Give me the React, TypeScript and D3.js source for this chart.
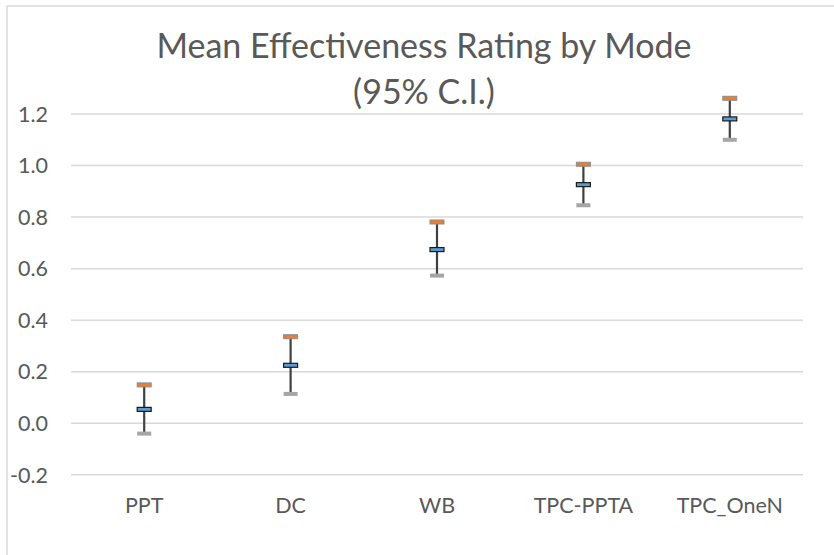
import React from "react";
import * as d3 from "d3";

const categories = ["PPT", "DC", "WB", "TPC-PPTA", "TPC_OneN"];
const upperValues = [0.149, 0.336, 0.781, 1.005, 1.261];
const meanValues = [0.054, 0.225, 0.674, 0.926, 1.181];
const lowerValues = [-0.04, 0.114, 0.573, 0.846, 1.1];
const yTicks = [-0.2, 0, 0.2, 0.4, 0.6, 0.8, 1.0, 1.2];
const titleLines = ["Mean Effectiveness Rating by Mode", "(95% C.I.)"];

const W = 834;
const H = 555;
const FONT = "Lato, 'Open Sans', sans-serif";
const TEXT = "#595959";
const GRID = "#D9D9D9";

const fmt = (t: number) => d3.format(".1f")(t).replace("\u2212", "-");

export default function App() {
  const x = d3.scaleBand<string>().domain(categories).range([71, 803]);
  const y = d3.scaleLinear().domain([-0.2, 1.2]).range([474.85, 114.0]);
  const cx = (c: string) => (x(c) as number) + x.bandwidth() / 2;
  const mw = 14;
  const mh = 4;

  return (
    <svg
      width={W}
      height={H}
      style={{ position: "absolute", left: 0, top: 0, background: "#fff" }}
      fontFamily={FONT}
    >
      <rect x={0} y={0} width={W} height={H} fill="#fff" />
      {/* chart border (cropped right/bottom) */}
      <line x1={7} y1={6} x2={W + 5} y2={6} stroke={GRID} strokeWidth={1.5} />
      <line x1={7} y1={6} x2={7} y2={H + 5} stroke={GRID} strokeWidth={1.5} />

      {/* title */}
      <text x={424} y={58} textAnchor="middle" fontSize={34} fill={TEXT}>
        {titleLines[0]}
      </text>
      <text x={424} y={104} textAnchor="middle" fontSize={34} fill={TEXT}>
        {titleLines[1]}
      </text>

      {/* gridlines and y tick labels */}
      {yTicks.map((t) => (
        <g key={t}>
          <line x1={71} x2={803} y1={y(t)} y2={y(t)} stroke={GRID} strokeWidth={1.5} />
          <text
            x={48}
            y={y(t)}
            dy="0.36em"
            textAnchor="end"
            fontSize={21.5}
            fill={TEXT}
          >
            {fmt(t)}
          </text>
        </g>
      ))}

      {/* category labels */}
      {categories.map((c) => (
        <text key={c} x={cx(c)} y={513} textAnchor="middle" fontSize={21.5} fill={TEXT}>
          {c}
        </text>
      ))}

      {/* high-low lines */}
      {categories.map((c, i) => (
        <line
          key={"hl" + c}
          x1={cx(c)}
          x2={cx(c)}
          y1={y(upperValues[i])}
          y2={y(lowerValues[i])}
          stroke="#404040"
          strokeWidth={2.2}
        />
      ))}

      {/* markers */}
      {categories.map((c, i) => (
        <g key={"m" + c}>
          <rect
            x={cx(c) - mw / 2}
            y={y(upperValues[i]) - mh / 2}
            width={mw}
            height={mh}
            fill="#ED7D31"
            stroke="#8c8c8c"
            strokeWidth={1}
          />
          <rect
            x={cx(c) - mw / 2}
            y={y(lowerValues[i]) - mh / 2}
            width={mw}
            height={mh}
            fill="#A5A5A5"
          />
          <rect
            x={cx(c) - mw / 2}
            y={y(meanValues[i]) - mh / 2}
            width={mw}
            height={mh}
            fill="#5B9BD5"
            stroke="#1a1a1a"
            strokeWidth={1.2}
          />
        </g>
      ))}
    </svg>
  );
}
